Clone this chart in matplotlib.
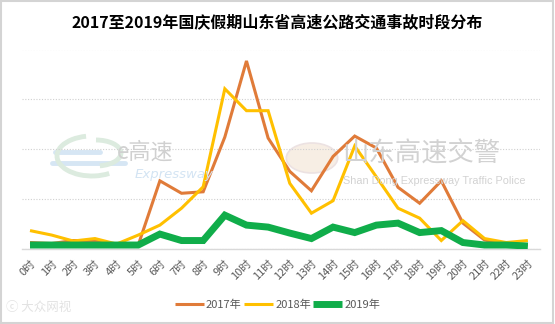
import matplotlib.pyplot as plt
from matplotlib.patches import Rectangle, Circle, Arc

plt.rcParams['font.family'] = ['Noto Sans CJK SC', 'DejaVu Sans']

hours = [f"{h}时" for h in range(24)]
y2017 = [1.2, 1.0, 1.6, 1.6, 0.6, 0.7, 13.6, 11.1, 11.4, 22.4, 37.7, 22.2,
         15.5, 11.6, 18.5, 22.6, 20.2, 12.3, 9.1, 13.6, 5.1, 1.7, 0.9, 0.7]
y2018 = [3.6, 2.7, 1.5, 2.0, 0.9, 2.7, 4.7, 8.1, 12.4, 32.1, 27.7, 27.7,
         13.1, 7.1, 9.6, 20.6, 14.4, 8.1, 6.1, 1.6, 5.6, 2.0, 1.2, 1.6]
y2019 = [0.7, 0.7, 0.7, 0.7, 0.7, 0.7, 2.9, 1.6, 1.6, 6.7, 4.7, 4.3,
         3.1, 2.0, 4.3, 3.2, 4.7, 5.1, 3.2, 3.6, 1.2, 0.7, 0.7, 0.5]
series = [("2017年", y2017, "#E07B39", 2.2),
          ("2018年", y2018, "#FFC000", 2.2),
          ("2019年", y2019, "#10AD4A", 5.0)]

W, H = 555, 324
fig = plt.figure(figsize=(W / 100, H / 100), dpi=100)
fig.patch.set_facecolor("white")

# light frame around the whole picture
fig.add_artist(Rectangle((0.002, 0.003), 0.994, 0.994, transform=fig.transFigure,
                         fill=False, edgecolor="#d4d4d4", lw=1.5))

ax = fig.add_axes([22 / W, 1 - 248.5 / H, (540 - 22) / W, (248.5 - 49.5) / H])
ax.set_facecolor("none")

# faint watermarks behind the lines
px = lambda x, y: (x / W, 1 - y / H)
for x0, x1, y0 in [(55, 100, 152), (52, 125, 163)]:
    fig.add_artist(plt.Line2D([x0 / W, x1 / W], [1 - y0 / H] * 2, color="#d6e6f4", lw=3.5,
                              solid_capstyle="round", zorder=0))
fig.add_artist(Arc(px(92, 156), 70 / W, 40 / H, theta1=100, theta2=300,
                   transform=fig.transFigure, edgecolor="#dcebdf", lw=3.5, zorder=0))
fig.add_artist(Arc(px(96, 153), 50 / W, 26 / H, theta1=-80, theta2=90,
                   transform=fig.transFigure, edgecolor="#dcebdf", lw=3.5, zorder=0))
fig.text(*px(117, 152), "e高速", fontsize=16, color="#d0d0d0", va="center", zorder=0)
fig.text(*px(135, 174), "Expressway", fontsize=9.5, color="#d3e4f3", va="center",
         style="italic", family="DejaVu Sans", zorder=0)
fig.add_artist(Circle(px(312, 158), 15 / H, transform=fig.transFigure,
                      facecolor="#f7eee4", edgecolor="#ece2e2", lw=1.2, zorder=0))
fig.text(*px(342, 154), "山东高速交警", fontsize=19, color="#d2d2d2", va="center", zorder=0)
fig.text(*px(343, 181), "Shan Dong Expressway Traffic Police", fontsize=7.8,
         color="#d2d2d2", va="center", family="Liberation Sans", zorder=0)
fig.text(*px(6, 307), "ⓒ 大众网视", fontsize=9, color="#e2e2e2", va="center", zorder=0)

x = list(range(len(hours)))
for name, vals, col, lw in series:
    ax.plot(x, vals, color=col, lw=lw, label=name, solid_joinstyle="miter",
            solid_capstyle="butt", zorder=3)

ax.set_xlim(-0.37, 23.56)
ax.set_ylim(0, 40)
ax.set_yticks([0, 10, 20, 30, 40])
ax.set_yticklabels([])
ax.tick_params(axis="y", length=0)
ax.grid(axis="y", color="#d0d0d0", lw=0.8, linestyle=(0, (1, 1.5)))
ax.set_axisbelow(True)
for s in ["top", "left", "right"]:
    ax.spines[s].set_visible(False)
ax.spines["bottom"].set_color("#d9d9d9")
ax.spines["bottom"].set_linewidth(1)

ax.set_xticks(x)
ax.set_xticklabels(hours, rotation=45, ha="right", va="top", rotation_mode="anchor",
                   fontsize=8, color="#595959")
ax.tick_params(axis="x", length=0, pad=7)

fig.text(0.5, 1 - 22 / H, "2017至2019年国庆假期山东省高速公路交通事故时段分布",
         ha="center", va="center", fontsize=11.5, fontweight="bold", color="#000000")

fig.legend(loc="center", bbox_to_anchor=(0.5, 1 - 305 / H), ncol=3, frameon=False,
           fontsize=8, labelcolor="#595959", handlelength=2.6, handletextpad=0.2,
           columnspacing=0.2)

fig.savefig("out.png", dpi=100, facecolor="white")
